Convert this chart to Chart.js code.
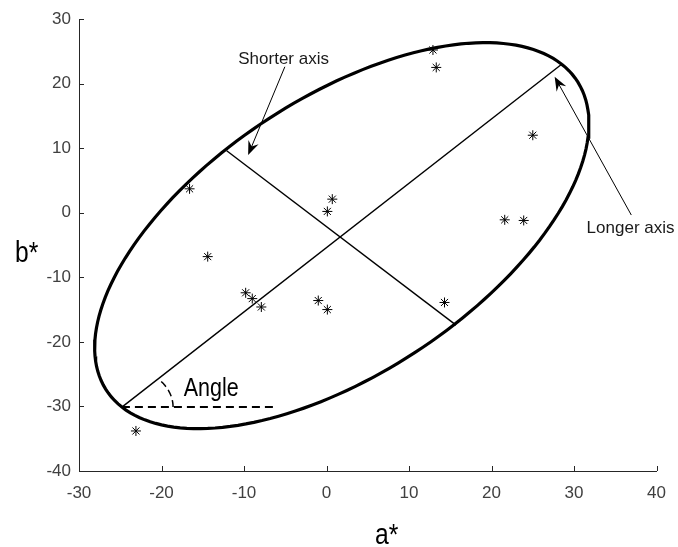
<!DOCTYPE html>
<html>
<head>
<meta charset="utf-8">
<script src="https://cdn.jsdelivr.net/npm/chart.js@4/dist/chart.umd.min.js"></script>
<style>
  html, body { margin: 0; padding: 0; background: #fff; }
</style>
</head>
<body>
<canvas id="chart" width="678" height="547"></canvas>
<script>
// measured samples (a*, b*)
const sampleA = [-16.6, 0.7, 0.1, 12.9, 13.3, 25.0, 21.6, 23.9, -14.4, -9.8, -9.0, -7.9, -1.0, 0.1, -23.1, 14.3];
const sampleB = [3.7, 2.1, 0.2, 25.2, 22.5, 12.0, -1.1, -1.2, -6.8, -12.4, -13.3, -14.6, -13.6, -15.0, -33.8, -13.9];

// ellipse axes, end points
const longAxisA = [-24.8, 28.5];
const longAxisB = [-30.1, 23.0];
const shortAxisA = [-12.1, 15.7];
const shortAxisB = [9.6, -17.4];

// horizontal reference for the angle
const refLineA = [-24.8, -5.9];
const refLineB = [-30.1, -30.1];
const angleRadius = 6.2;

const xTicks = [-30, -20, -10, 0, 10, 20, 30, 40];
const yTicks = [-40, -30, -20, -10, 0, 10, 20, 30];

const toPoints = (xs, ys) => xs.map((x, i) => ({ x: x, y: ys[i] }));

// ellipse built from its two axes
const cx = (longAxisA[0] + longAxisA[1]) / 2;
const cy = (longAxisB[0] + longAxisB[1]) / 2;
const dxL = longAxisA[1] - cx, dyL = longAxisB[1] - cy;
const semiMajor = Math.hypot(dxL, dyL);
const semiMinor = Math.hypot(shortAxisA[1] - shortAxisA[0], shortAxisB[1] - shortAxisB[0]) / 2;
const phi = Math.atan2(dyL, dxL);

const ellipsePts = [];
for (let i = 0; i <= 180; i++) {
  const t = (2 * Math.PI * i) / 180;
  ellipsePts.push({
    x: cx + semiMajor * Math.cos(t) * Math.cos(phi) - semiMinor * Math.sin(t) * Math.sin(phi),
    y: cy + semiMajor * Math.cos(t) * Math.sin(phi) + semiMinor * Math.sin(t) * Math.cos(phi)
  });
}

const arcPts = [];
for (let i = 0; i <= 30; i++) {
  const t = (phi * i) / 30;
  arcPts.push({ x: longAxisA[0] + angleRadius * Math.cos(t), y: longAxisB[0] + angleRadius * Math.sin(t) });
}

const lineStyle = { showLine: true, pointRadius: 0, borderColor: "#000", tension: 0, fill: false };

// inward tick marks (matlab style)
const inwardTicks = {
  id: "inwardTicks",
  afterDraw(chart) {
    const { ctx, scales: { x, y } } = chart;
    ctx.save();
    ctx.strokeStyle = "#262626";
    ctx.lineWidth = 1;
    ctx.beginPath();
    xTicks.forEach((v) => {
      const px = Math.round(x.getPixelForValue(v)) + 0.5;
      ctx.moveTo(px, y.bottom);
      ctx.lineTo(px, y.bottom - 5);
    });
    yTicks.forEach((v) => {
      const py = Math.round(y.getPixelForValue(v)) + 0.5;
      ctx.moveTo(x.left, py);
      ctx.lineTo(x.left + 5, py);
    });
    ctx.stroke();
    ctx.restore();
  }
};

function arrow(ctx, sx, sy, tx, ty) {
  const len = Math.hypot(tx - sx, ty - sy);
  const ux = (tx - sx) / len, uy = (ty - sy) / len;
  const nx = -uy, ny = ux;
  const L = 14, W = 11;
  ctx.beginPath();
  ctx.moveTo(sx, sy);
  ctx.lineTo(tx - ux * L * 0.6, ty - uy * L * 0.6);
  ctx.lineWidth = 1;
  ctx.strokeStyle = "#000";
  ctx.stroke();
  ctx.beginPath();
  ctx.moveTo(tx, ty);
  ctx.lineTo(tx - ux * L + nx * W / 2, ty - uy * L + ny * W / 2);
  ctx.lineTo(tx - ux * L * 0.65, ty - uy * L * 0.65);
  ctx.lineTo(tx - ux * L - nx * W / 2, ty - uy * L - ny * W / 2);
  ctx.closePath();
  ctx.fillStyle = "#000";
  ctx.fill();
}

function narrowText(ctx, text, px, py, font, sx, align) {
  ctx.save();
  ctx.font = font;
  ctx.textBaseline = "alphabetic";
  ctx.textAlign = "left";
  const w = ctx.measureText(text).width * sx;
  let left = px;
  if (align === "center") left = px - w / 2;
  ctx.translate(left, py);
  ctx.scale(sx, 1);
  ctx.fillText(text, 0, 0);
  ctx.restore();
}

const annotations = {
  id: "annotations",
  afterDraw(chart) {
    const { ctx, scales: { x, y } } = chart;
    const X = (v) => x.getPixelForValue(v);
    const Y = (v) => y.getPixelForValue(v);
    ctx.save();
    ctx.fillStyle = "#1a1a1a";
    narrowText(ctx, "Shorter axis", X(-5.2), Y(22.4) - 4, "17px 'Liberation Sans', Arial, sans-serif", 1.0, "center");
    narrowText(ctx, "Longer axis", X(36.85), Y(-2.2) + 6, "17px 'Liberation Sans', Arial, sans-serif", 1.0, "center");
    arrow(ctx, X(-5.05), Y(22.6), X(-9.5), Y(8.94));
    arrow(ctx, X(36.94), Y(-0.36), X(27.65), Y(21.06));
    ctx.fillStyle = "#000";
    narrowText(ctx, "Angle", X(-17.3), Y(-28.4), "25px 'Liberation Sans', Arial, sans-serif", 0.86, "left");
    narrowText(ctx, "b*", 15, 262, "29px 'Liberation Sans', Arial, sans-serif", 0.85, "left");
    narrowText(ctx, "a*", 375, 544, "29px 'Liberation Sans', Arial, sans-serif", 0.85, "left");
    ctx.restore();
  }
};

new Chart(document.getElementById("chart"), {
  type: "scatter",
  data: {
    datasets: [
      {
        label: "samples",
        data: toPoints(sampleA, sampleB),
        pointStyle: "star",
        pointRadius: 5,
        borderColor: "#000",
        backgroundColor: "#000",
        borderWidth: 1
      },
      { ...lineStyle, label: "ellipse", data: ellipsePts, borderWidth: 3.2 },
      { ...lineStyle, label: "longer axis", data: toPoints(longAxisA, longAxisB), borderWidth: 1.4 },
      { ...lineStyle, label: "shorter axis", data: toPoints(shortAxisA, shortAxisB), borderWidth: 1.4 },
      { ...lineStyle, label: "reference", data: toPoints(refLineA, refLineB), borderWidth: 2, borderDash: [8, 5] },
      { ...lineStyle, label: "angle", data: arcPts, borderWidth: 1.5, borderDash: [7, 4] }
    ]
  },
  options: {
    responsive: false,
    animation: false,
    devicePixelRatio: 1,
    layout: { padding: { top: 19, right: 21, left: 0, bottom: 0 } },
    plugins: { legend: { display: false }, tooltip: { enabled: false } },
    scales: {
      x: {
        min: -30,
        max: 40,
        afterBuildTicks: (s) => { s.ticks = xTicks.map((v) => ({ value: v })); },
        afterFit: (s) => { s.height = 76; },
        grid: { display: false, drawTicks: false },
        border: { display: true, color: "#262626", width: 1 },
        ticks: { color: "#404040", padding: 12, font: { family: "'Liberation Sans', Arial, sans-serif", size: 17 } }
      },
      y: {
        min: -40,
        max: 30,
        afterBuildTicks: (s) => { s.ticks = yTicks.map((v) => ({ value: v })); },
        afterFit: (s) => { s.width = 79; },
        grid: { display: false, drawTicks: false },
        border: { display: true, color: "#262626", width: 1 },
        ticks: { color: "#404040", padding: 8, font: { family: "'Liberation Sans', Arial, sans-serif", size: 17 } }
      }
    }
  },
  plugins: [inwardTicks, annotations]
});
</script>
</body>
</html>
